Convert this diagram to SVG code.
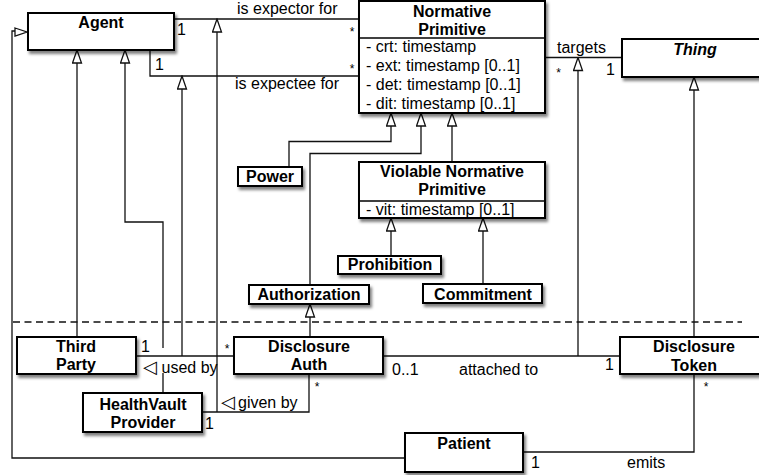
<svg xmlns="http://www.w3.org/2000/svg" width="759" height="475" viewBox="0 0 759 475">
<style>
.box{fill:#fff;stroke:#000;stroke-width:2;filter:url(#sh)}
.sep{stroke:#000;stroke-width:1.5}
.ln{fill:none;stroke:#111;stroke-width:1.3}
.gen{marker-end:url(#tri)}
.dash{fill:none;stroke:#111;stroke-width:1.3;stroke-dasharray:7,4.5}
.t{font-family:"Liberation Sans",Arial,Helvetica,sans-serif;font-size:16px;fill:#000}
.b{font-weight:bold;text-anchor:middle}
.m{font-family:"Liberation Sans",Arial,Helvetica,sans-serif;font-size:12px;fill:#000;text-anchor:middle}
.sym{font-family:"DejaVu Sans",sans-serif;font-size:18px}
</style>
<defs>
<filter id="sh" x="-10%" y="-20%" width="130%" height="160%">
<feDropShadow dx="2" dy="3" stdDeviation="1.6" flood-color="#000" flood-opacity="0.5"/>
</filter>
<marker id="tri" viewBox="-1 -1 15 11" markerWidth="15" markerHeight="11" refX="13" refY="4.5" orient="auto" markerUnits="userSpaceOnUse">
<path d="M0,0 L13,4.5 L0,9 Z" fill="#fff" stroke="#111" stroke-width="1.3"/>
</marker>
</defs>
<rect width="759" height="475" fill="#fff"/>

<g id="connectors">
<path class="ln" d="M174,19 H359"/>
<path class="ln" d="M150,50 V76 H359"/>
<path class="ln" d="M545,57.5 H622"/>
<path class="ln gen" d="M77,337 V50"/>
<path class="ln gen" d="M163,393 V373 M163,348 V222 H125 V50"/>
<path class="ln gen" d="M182,356 V76"/>
<path class="ln gen" d="M217,412 V19"/>
<path class="ln gen" d="M289,167 V141.5 H391 V113"/>
<path class="ln gen" d="M310,285 V153.5 H421 V113"/>
<path class="ln gen" d="M452,162 V113"/>
<path class="ln gen" d="M391,256 V218"/>
<path class="ln gen" d="M483,284 V218"/>
<path class="ln gen" d="M310,337 V304"/>
<path class="ln gen" d="M694,337 V77"/>
<path class="ln gen" d="M578,356 V57.5"/>
<path class="ln" d="M136,356 H234"/>
<path class="ln" d="M202,412 H309 V374"/>
<path class="ln" d="M383,356 H620"/>
<path class="ln" d="M694,374 V452 H523"/>
<path class="ln" d="M405,458 H12 V31 H15"/>
<path d="M15,28 L27,32 L15,36 Z" fill="#fff" stroke="#111" stroke-width="1.3"/>
<path class="dash" d="M13,322 H742"/>
<text class="t" x="237" y="13.5">is expector for</text>
<text class="t" x="235" y="89">is expectee for</text>
<text class="t" x="177" y="35">1</text>
<text class="m" x="352" y="36">*</text>
<text class="t" x="155" y="70">1</text>
<text class="m" x="352" y="72.5">*</text>
<text class="t" x="557" y="53">targets</text>
<text class="m" x="558.5" y="77">*</text>
<text class="t" x="606" y="75">1</text>
<text class="t" x="141" y="352">1</text>
<text class="m" x="227" y="352.5">*</text>
<text class="t" y="373"><tspan class="sym" x="143" dy="0">◁</tspan><tspan x="161.5">used by</tspan></text>
<text class="t" y="408"><tspan class="sym" x="221" dy="0">◁</tspan><tspan x="238">given by</tspan></text>
<text class="m" x="317" y="391">*</text>
<text class="t" x="205" y="429">1</text>
<text class="t" x="392" y="375">0..1</text>
<text class="t" x="459" y="375">attached to</text>
<text class="t" x="605" y="370">1</text>
<text class="m" x="706" y="391">*</text>
<text class="t" x="531" y="468">1</text>
<text class="t" x="627" y="468">emits</text>
</g>

<g id="agent">
<rect class="box" x="28" y="13" width="146" height="37"/>
<text class="t b" x="101" y="28">Agent</text>
</g>
<g id="normative-primitive">
<rect class="box" x="359" y="1" width="186" height="112"/>
<line class="sep" x1="359" y1="38" x2="545" y2="38"/>
<text class="t b" x="452" y="17">Normative</text>
<text class="t b" x="452" y="35">Primitive</text>
<text class="t" x="366" y="52">- crt: timestamp</text>
<text class="t" x="366" y="71">- ext: timestamp [0..1]</text>
<text class="t" x="366" y="90">- det: timestamp [0..1]</text>
<text class="t" x="366" y="109">- dit: timestamp [0..1]</text>
</g>
<g id="thing">
<rect class="box" x="622" y="39" width="146" height="38"/>
<text class="t b" x="695" y="55" font-style="italic">Thing</text>
</g>
<g id="power">
<rect class="box" x="238" y="167" width="64" height="19"/>
<text class="t b" x="270" y="182">Power</text>
</g>
<g id="violable-normative-primitive">
<rect class="box" x="359" y="162" width="186" height="56"/>
<line class="sep" x1="359" y1="201" x2="545" y2="201"/>
<text class="t b" x="452" y="177">Violable Normative</text>
<text class="t b" x="452" y="195">Primitive</text>
<text class="t" x="366" y="215">- vit: timestamp [0..1]</text>
</g>
<g id="prohibition">
<rect class="box" x="338" y="256" width="103" height="18"/>
<text class="t b" x="390" y="270">Prohibition</text>
</g>
<g id="authorization">
<rect class="box" x="249" y="285" width="120" height="19"/>
<text class="t b" x="309" y="300">Authorization</text>
</g>
<g id="commitment">
<rect class="box" x="423" y="284" width="119" height="19"/>
<text class="t b" x="483" y="299.5">Commitment</text>
</g>
<g id="third-party">
<rect class="box" x="17" y="337" width="119" height="37"/>
<text class="t b" x="76" y="352">Third</text>
<text class="t b" x="76" y="370">Party</text>
</g>
<g id="disclosure-auth">
<rect class="box" x="234" y="337" width="149" height="37"/>
<text class="t b" x="309" y="352">Disclosure</text>
<text class="t b" x="309" y="370">Auth</text>
</g>
<g id="healthvault-provider">
<rect class="box" x="83" y="393" width="119" height="39"/>
<text class="t b" x="143" y="410">HealthVault</text>
<text class="t b" x="143" y="428">Provider</text>
</g>
<g id="disclosure-token">
<rect class="box" x="620" y="337" width="148" height="37"/>
<text class="t b" x="694" y="352">Disclosure</text>
<text class="t b" x="694" y="371">Token</text>
</g>
<g id="patient">
<rect class="box" x="405" y="433" width="118" height="39"/>
<text class="t b" x="464" y="449">Patient</text>
</g>
</svg>
